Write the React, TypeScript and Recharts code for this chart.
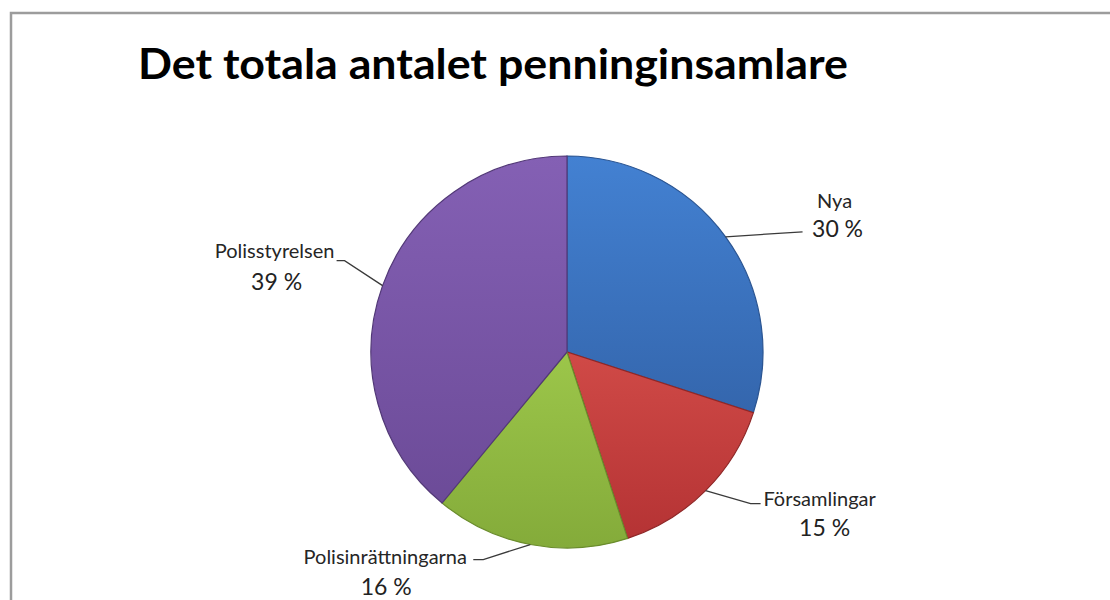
import React from "react";
import { PieChart, Pie, Cell } from "recharts";

const names = ["Nya", "Församlingar", "Polisinrättningarna", "Polisstyrelsen"];
const shares = [30, 15, 16, 39];
const pctLabels = ["30 %", "15 %", "16 %", "39 %"];

const data = names.map((name, i) => ({ name, value: shares[i], pct: pctLabels[i] }));

// fill shades: light top, dark bottom, edge stroke
const shades = [
  { top: "#4381d2", bottom: "#3466ad", edge: "#2b5592" },
  { top: "#d04a47", bottom: "#b53334", edge: "#8f2727" },
  { top: "#9cc64a", bottom: "#84ab3a", edge: "#6a8c2c" },
  { top: "#8460b4", bottom: "#6c4b98", edge: "#523877" },
];

// leader line + text placement, relative to the slice edge point
const labelLayout = [
  { ex: 77, ey: -5, tail: 0, nx: 32, ny: -24, px: 35, py: 5 },
  { ex: 45, ey: 13, tail: 10, nx: 59, ny: 2, px: 64, py: 32 },
  { ex: -47, ey: 15, tail: -10, nx: -88, ny: 4, px: -87, py: 35 },
  { ex: -38, ey: -25, tail: -8, nx: -62, ny: -3, px: -60, py: 29 },
];

const RADIAN = Math.PI / 180;

function renderLabel(props: any) {
  const { cx, cy, midAngle, outerRadius, index } = props;
  const l = labelLayout[index];
  const x0 = cx + outerRadius * Math.cos(-midAngle * RADIAN);
  const y0 = cy + outerRadius * Math.sin(-midAngle * RADIAN);
  const x1 = x0 + l.ex;
  const y1 = y0 + l.ey;
  const x2 = x1 + l.tail;
  return (
    <g key={`lbl-${index}`}>
      <polyline
        points={`${x0},${y0} ${x1},${y1} ${x2},${y1}`}
        fill="none"
        stroke="#3a3a3a"
        strokeWidth={1.3}
      />
      <text
        x={x2 + l.nx}
        y={y1 + l.ny}
        textAnchor="middle"
        fontFamily="Lato"
        fontSize={20}
        fill="#262626"
      >
        {names[index]}
      </text>
      <text
        x={x2 + l.px}
        y={y1 + l.py}
        textAnchor="middle"
        fontFamily="Lato"
        fontSize={23}
        fill="#222"
      >
        {pctLabels[index]}
      </text>
    </g>
  );
}

export default function App() {
  return (
    <div
      style={{
        position: "absolute",
        left: 0,
        top: 0,
        width: 1110,
        height: 600,
        background: "#fff",
        overflow: "hidden",
      }}
    >
      <svg width={1110} height={600} style={{ position: "absolute", left: 0, top: 0 }}>
        <rect x={11} y={13} width={1130} height={620} fill="none" stroke="#9c9c9c" strokeWidth={2.5} />
        <text
          x={138}
          y={79}
          fontFamily="Lato"
          fontWeight={700}
          fontSize={42}
          fill="#000"
          textLength={710}
          lengthAdjust="spacingAndGlyphs"
        >
          Det totala antalet penninginsamlare
        </text>
      </svg>
      <div style={{ position: "absolute", left: 0, top: 0 }}>
        <PieChart width={1110} height={600} margin={{ top: 0, right: 0, bottom: 0, left: 0 }}>
          <defs>
            {shades.map((s, i) => (
              <linearGradient key={i} id={`grad${i}`} x1="0" y1="0" x2="0" y2="1">
                <stop offset="0%" stopColor={s.top} />
                <stop offset="100%" stopColor={s.bottom} />
              </linearGradient>
            ))}
          </defs>
          <Pie
            data={data}
            dataKey="value"
            nameKey="name"
            cx={567}
            cy={352}
            outerRadius={196}
            startAngle={90}
            endAngle={-270}
            label={renderLabel}
            labelLine={false}
            isAnimationActive={false}
          >
            {data.map((d, i) => (
              <Cell key={d.name} fill={`url(#grad${i})`} stroke={shades[i].edge} strokeWidth={1.2} />
            ))}
          </Pie>
        </PieChart>
      </div>
    </div>
  );
}
